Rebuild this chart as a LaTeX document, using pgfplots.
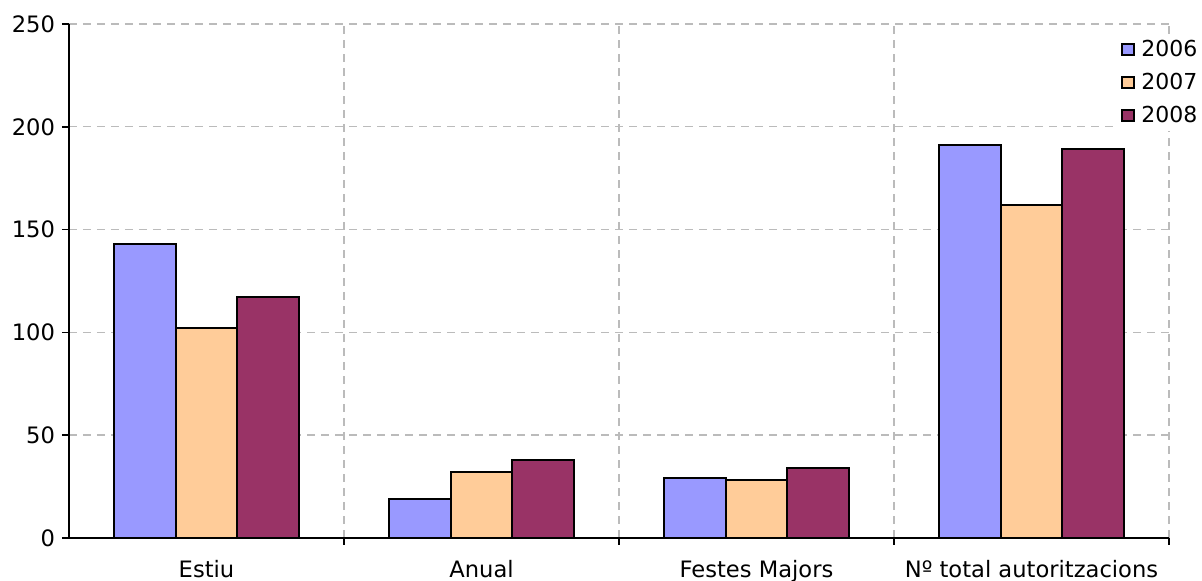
\documentclass[border=0pt]{standalone}
\usepackage{pgfplots}
\pgfplotsset{compat=1.18}
\usepackage{fontspec}
\setmainfont{DejaVu Sans}

\definecolor{c2006}{HTML}{9999FF}
\definecolor{c2007}{HTML}{FFCC99}
\definecolor{c2008}{HTML}{993366}
\definecolor{gridgray}{HTML}{BBBBBB}

\begin{document}
\begin{tikzpicture}
\begin{axis}[
  scale only axis,
  width=550pt, height=257pt,
  font=\fontsize{11.3}{13}\selectfont,
  /pgf/number format/assume math mode=true,
  ybar=0pt, bar width=0.224,
  xmin=-0.5, xmax=3.5,
  ymin=0, ymax=250,
  ytick={0,50,...,250},
  xtick={0,1,2,3},
  xticklabels={Estiu, Anual, Festes Majors, Nº total autoritzacions},
  minor xtick={0.5,1.5,2.5,3.5},
  major x tick style={draw=none},
  axis x line*=bottom, axis y line*=left,
  axis line style={black, line width=0.75pt, -},
  tick style={black, line width=0.75pt},
  tick align=outside,
  major tick length=3.5pt, minor tick length=3.5pt,
  ymajorgrids, xminorgrids,
  grid style={gridgray, line width=0.7pt, dash pattern=on 4pt off 3pt},
  minor grid style={gridgray, line width=0.7pt, dash pattern=on 4pt off 3pt},
  xticklabel style={yshift=-4pt},
  legend style={at={(rel axis cs:1.0315,0.981)}, anchor=north east,
    draw=none, fill=white, inner sep=1pt, row sep=2.8pt,
    font=\fontsize{11}{13}\selectfont},
  legend cell align=left,
  legend image code/.code={\draw[#1, line width=1pt] (0pt,-2.8pt) rectangle (5.6pt,2.8pt);\path (7pt,0pt);},
]
\addplot[fill=c2006, draw=black, line width=0.95pt] coordinates {(0,143) (1,19) (2,29) (3,191)};
\addlegendentry{2006}
\addplot[fill=c2007, draw=black, line width=0.95pt] coordinates {(0,102) (1,32) (2,28) (3,162)};
\addlegendentry{2007}
\addplot[fill=c2008, draw=black, line width=0.95pt] coordinates {(0,117) (1,38) (2,34) (3,189)};
\addlegendentry{2008}
\coordinate (sw) at (rel axis cs:0,0);
\coordinate (ne) at (rel axis cs:1,1);
\end{axis}
\pgfresetboundingbox
\path ([shift={(-34.5pt,-21.5pt)}]sw) rectangle ([shift={(16.5pt,12pt)}]ne);
\end{tikzpicture}
\end{document}
